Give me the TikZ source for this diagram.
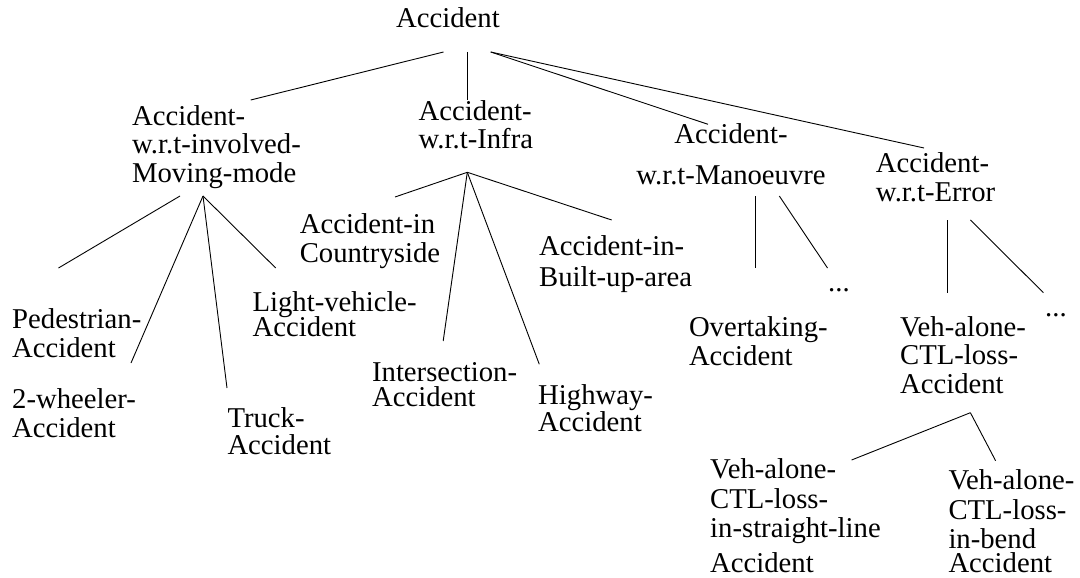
\documentclass[tikz,border=0pt]{standalone}
\usepackage{fontspec}
\setmainfont{Liberation Serif}
\usepackage{tikz}

\tikzset{
  label/.style={anchor=base west, inner sep=0pt, align=left,
    font=\fontsize{28.7}{28.5}\selectfont},
  branch/.style={line width=0.9pt}
}

\begin{document}
\begin{tikzpicture}[x=1pt,y=-1pt]
    \useasboundingbox (0,0) rectangle (1080,578);

    % 根节点与第一层 (base = 最后一行基线)
    \node[label] (root) at (396,28) {Accident};
    \node[label] (mov) at (131.9,182) {Accident-\\w.r.t-involved-\\Moving-mode};
    \node[label] (infra) at (418.4,149) {Accident-\\w.r.t-Infra};
    \node[label, anchor=base, align=center] (man) at (731,184) {Accident-\\[12.5pt]w.r.t-Manoeuvre};
    \node[label] (err) at (875.7,201) {Accident-\\w.r.t-Error};

    % 第二层
    \node[label] (ped) at (12,357) {Pedestrian-\\Accident};
    \node[label] (two) at (12,437) {2-wheeler-\\Accident};
    \node[label] (truck) at (227.3,454) {Truck-\\[-1.5pt]Accident};
    \node[label] (light) at (252.4,336) {Light-vehicle-\\[-3.5pt]Accident};
    \node[label] (country) at (299.6,262) {Accident-in\\Countryside};
    \node[label] (inter) at (371.9,406.7) {Intersection-\\[-3.5pt]Accident};
    \node[label] (highway) at (538,431) {Highway-\\[-1.5pt]Accident};
    \node[label] (built) at (539,286) {Accident-in-\\[2.5pt]Built-up-area};
    \node[label] (overt) at (688.8,365) {Overtaking-\\Accident};
    \node[label] (mandots) at (828,291.7) {...};
    \node[label] (veh) at (899.9,393) {Veh-alone-\\CTL-loss-\\Accident};
    \node[label] (errdots) at (1045,316.7) {...};

    % 第三层
    \node[label] (straight) at (710,572) {Veh-alone-\\[1.5pt]CTL-loss-\\in-straight-line\\[6.5pt]Accident};
    \node[label] (bend) at (948.3,572) {Veh-alone-\\[1.5pt]CTL-loss-\\in-bend\\[-4.5pt]Accident};

% 连线端点
    \coordinate (r1) at (443.5,52);
    \coordinate (r2) at (467.3,52);
    \coordinate (r3) at (490.7,52);
    \coordinate (mov-t) at (250.7,100);
    \coordinate (infra-t) at (467.3,100);
    \coordinate (man-t) at (708,124.3);
    \coordinate (err-t) at (924,148);

    \coordinate (m1) at (180,196);
    \coordinate (m2) at (203,196);
    \coordinate (ped-t) at (58.5,268);
    \coordinate (two-t) at (131,363);
    \coordinate (truck-t) at (227,388);
    \coordinate (light-t) at (275.7,268);

    \coordinate (i1) at (467.3,172.3);
    \coordinate (country-t) at (395,197);
    \coordinate (inter-t) at (443.2,341);
    \coordinate (highway-t) at (539.3,364.3);
    \coordinate (built-t) at (611.7,220);

    \coordinate (a1) at (755.6,196);
    \coordinate (a2) at (779.3,196);
    \coordinate (overt-t) at (755.6,268);
    \coordinate (mandots-t) at (827.5,268);

    \coordinate (e1) at (947.4,220);
    \coordinate (e2) at (970.4,220);
    \coordinate (veh-t) at (947.4,292.7);
    \coordinate (errdots-t) at (1043.4,292.7);

    \coordinate (v1) at (970.4,412.7);
    \coordinate (straight-t) at (851.6,460);
    \coordinate (bend-t) at (995.6,460.7);

% 连线
    \draw[branch] (r1) -- (mov-t);
    \draw[branch] (r2) -- (infra-t);
    \draw[branch] (r3) -- (man-t);
    \draw[branch] (r3) -- (err-t);

    \draw[branch] (m1) -- (ped-t);
    \draw[branch] (m2) -- (two-t);
    \draw[branch] (m2) -- (truck-t);
    \draw[branch] (m2) -- (light-t);

    \draw[branch] (i1) -- (country-t);
    \draw[branch] (i1) -- (inter-t);
    \draw[branch] (i1) -- (highway-t);
    \draw[branch] (i1) -- (built-t);

    \draw[branch] (a1) -- (overt-t);
    \draw[branch] (a2) -- (mandots-t);

    \draw[branch] (e1) -- (veh-t);
    \draw[branch] (e2) -- (errdots-t);

    \draw[branch] (v1) -- (straight-t);
    \draw[branch] (v1) -- (bend-t);

\end{tikzpicture}
\end{document}
